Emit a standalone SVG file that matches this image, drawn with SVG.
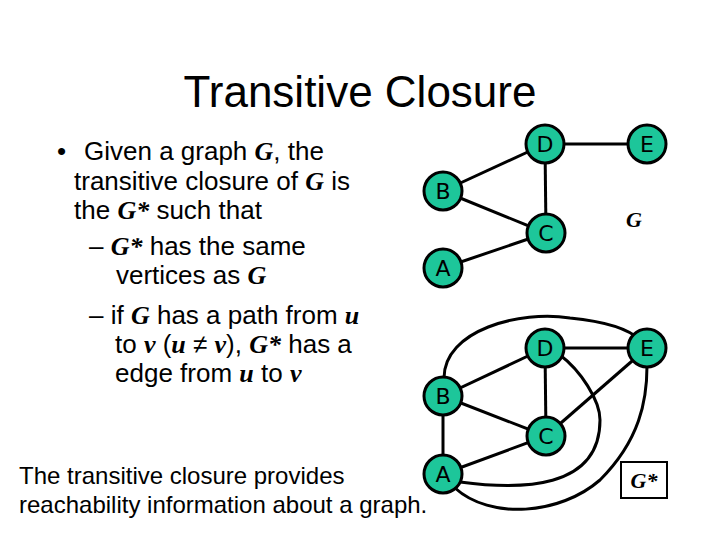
<svg xmlns="http://www.w3.org/2000/svg" width="720" height="540" viewBox="0 0 720 540">
<style>
.n circle{fill:#1dc69a;stroke:#000;stroke-width:3}
.n text{font-family:"DejaVu Sans",sans-serif;font-size:22px;text-anchor:middle;dominant-baseline:central}
.e{stroke:#000;stroke-width:3;fill:none}
.t{font-family:"Liberation Sans",Arial,sans-serif;font-size:26px}
.i{font-family:"Liberation Serif",serif;font-style:italic;font-weight:bold}
</style>
<rect width="720" height="540" fill="#fff"/>
<text x="360" y="107" text-anchor="middle" font-family="Liberation Sans,Arial,sans-serif" font-size="44">Transitive Closure</text>
<g class="t">
<text x="57" y="160">•</text>
<text x="84" y="160">Given a graph <tspan class="i">G</tspan>, the</text>
<text x="74" y="190">transitive closure of <tspan class="i">G</tspan> is</text>
<text x="74" y="219">the <tspan class="i">G*</tspan> such that</text>
<text x="89" y="255">– <tspan class="i">G*</tspan> has the same</text>
<text x="116" y="284">vertices as <tspan class="i">G</tspan></text>
<text x="89" y="324">– if <tspan class="i">G</tspan> has a path from <tspan class="i">u</tspan></text>
<text x="115" y="353">to <tspan class="i">v</tspan> (<tspan class="i">u</tspan> ≠ <tspan class="i">v</tspan>), <tspan class="i">G*</tspan> has a</text>
<text x="115" y="382">edge from <tspan class="i">u</tspan> to <tspan class="i">v</tspan></text>
</g>
<g font-family="Liberation Sans,Arial,sans-serif" font-size="24">
<text x="19" y="484">The transitive closure provides</text>
<text x="19" y="513">reachability information about a graph.</text>
</g>
<g id="edges">
<line class="e" x1="443" y1="191" x2="545" y2="144"/>
<line class="e" x1="545" y1="144" x2="647" y2="144"/>
<line class="e" x1="545" y1="144" x2="546" y2="233"/>
<line class="e" x1="443" y1="191" x2="546" y2="233"/>
<line class="e" x1="443" y1="268" x2="546" y2="233"/>
<line class="e" x1="443" y1="396" x2="545" y2="348"/>
<line class="e" x1="545" y1="348" x2="647" y2="348"/>
<line class="e" x1="545" y1="348" x2="546" y2="436"/>
<line class="e" x1="443" y1="396" x2="546" y2="436"/>
<line class="e" x1="443" y1="474" x2="546" y2="436"/>
<line class="e" x1="443" y1="396" x2="443" y2="474"/>
<line class="e" x1="546" y1="436" x2="647" y2="348"/>
<path class="e" d="M444,378 C444,330 520,310 570,318 C610,322 630,330 640,340"/>
<path class="e" d="M460,482 C520,490 600,490 600,420 C600,400 580,370 560,355"/>
<path class="e" d="M455,488 C490,520 560,515 600,480 C640,440 647,400 647,366"/>
</g>
<g id="A" class="n"><circle cx="443" cy="268" r="19"/><text x="443" y="268">A</text></g>
<g id="B" class="n"><circle cx="443" cy="191" r="19"/><text x="443" y="191">B</text></g>
<g id="C" class="n"><circle cx="546" cy="233" r="19"/><text x="546" y="233">C</text></g>
<g id="D" class="n"><circle cx="545" cy="144" r="19"/><text x="545" y="144">D</text></g>
<g id="E" class="n"><circle cx="647" cy="144" r="19"/><text x="647" y="144">E</text></g>
<text x="634" y="227" class="i" font-size="22" text-anchor="middle">G</text>
<g id="A2" class="n"><circle cx="443" cy="474" r="19"/><text x="443" y="474">A</text></g>
<g id="B2" class="n"><circle cx="443" cy="396" r="19"/><text x="443" y="396">B</text></g>
<g id="C2" class="n"><circle cx="546" cy="436" r="19"/><text x="546" y="436">C</text></g>
<g id="D2" class="n"><circle cx="545" cy="348" r="19"/><text x="545" y="348">D</text></g>
<g id="E2" class="n"><circle cx="647" cy="348" r="19"/><text x="647" y="348">E</text></g>
<rect x="621" y="462" width="46" height="36" fill="#fff" stroke="#000" stroke-width="2"/>
<text x="644" y="488" class="i" font-size="22" text-anchor="middle">G*</text>
</svg>
